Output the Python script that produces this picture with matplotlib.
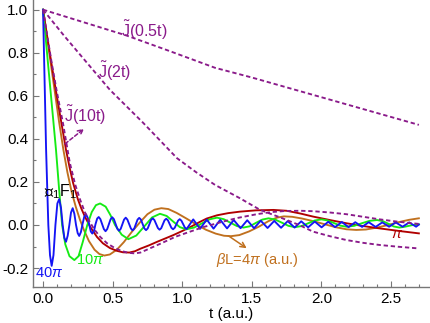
import matplotlib.pyplot as plt
from matplotlib.ticker import MultipleLocator, FormatStrFormatter

plt.rcParams['font.family'] = ['Liberation Sans', 'DejaVu Sans']
plt.rcParams['mathtext.fontset'] = 'custom'
plt.rcParams['mathtext.rm'] = 'Liberation Sans'
plt.rcParams['mathtext.it'] = 'Liberation Sans:italic'

# J~(0.5t), J~(2t), J~(10t): dashed reference curves
j05_t = [0.0, 0.3, 0.6, 0.9, 1.236, 1.5, 1.8, 2.1, 2.4, 2.7]
j05_y = [1.0, 0.94, 0.88, 0.81, 0.73, 0.685, 0.63, 0.575, 0.52, 0.465]

j2_t = [0.0, 0.15, 0.316, 0.48, 0.72, 0.963, 1.1, 1.236, 1.415, 1.56, 1.72,
        1.84, 1.94, 2.06, 2.18, 2.30, 2.42, 2.55, 2.70]
j2_y = [1.0, 0.88, 0.753, 0.628, 0.474, 0.31, 0.245, 0.186, 0.124, 0.07, 0.031,
        0.0, -0.031, -0.052, -0.07, -0.083, -0.093, -0.101, -0.109]

j10_t = [0.0, 0.03, 0.063, 0.096, 0.144, 0.192, 0.23, 0.265, 0.30, 0.335,
         0.37, 0.41, 0.46, 0.51, 0.56, 0.61, 0.66, 0.70, 0.77, 0.85,
         0.95, 1.056, 1.15, 1.295, 1.40, 1.535, 1.64, 1.74, 1.85, 1.94,
         2.06, 2.18, 2.30, 2.42, 2.54, 2.65, 2.70]
j10_y = [1.0, 0.88, 0.75, 0.63, 0.47, 0.29, 0.19, 0.12, 0.06, 0.015,
         -0.022, -0.055, -0.085, -0.105, -0.12, -0.129, -0.132, -0.128, -0.108, -0.085,
         -0.055, -0.031, -0.01, 0.016, 0.033, 0.05, 0.06, 0.065, 0.066, 0.064,
         0.058, 0.05, 0.038, 0.026, 0.016, 0.008, 0.005]

# beta L = pi
red_t = [0.0, 0.03, 0.063, 0.10, 0.133, 0.165, 0.19, 0.216, 0.25, 0.276,
         0.302, 0.34, 0.388, 0.43, 0.48, 0.53, 0.575, 0.62, 0.66, 0.70,
         0.76, 0.82, 0.88, 0.936, 1.0, 1.06, 1.12, 1.176, 1.25, 1.33,
         1.415, 1.53, 1.655, 1.75, 1.85, 1.94, 2.06, 2.18, 2.30, 2.42,
         2.56, 2.70]
red_y = [1.0, 0.875, 0.74, 0.595, 0.47, 0.349, 0.27, 0.195, 0.12, 0.075,
         0.037, -0.01, -0.056, -0.085, -0.107, -0.12, -0.127, -0.128, -0.122, -0.11,
         -0.095, -0.078, -0.062, -0.047, -0.028, -0.009, 0.012, 0.03, 0.045, 0.055,
         0.062, 0.068, 0.07, 0.066, 0.053, 0.039, 0.023, 0.008, -0.005, -0.016,
         -0.028, -0.039]

# beta L = 4 pi
brown_t = [0.0, 0.04, 0.08, 0.115, 0.146, 0.175, 0.205, 0.235, 0.265, 0.295,
           0.33, 0.37, 0.405, 0.44, 0.48, 0.53, 0.58, 0.64, 0.70, 0.75,
           0.80, 0.85, 0.90, 0.96, 1.03, 1.10, 1.17, 1.24, 1.30, 1.35,
           1.41, 1.48, 1.55, 1.62, 1.68, 1.73, 1.79, 1.86, 1.94, 2.02,
           2.10, 2.18, 2.25, 2.32, 2.40, 2.48, 2.56, 2.63, 2.70]
brown_y = [1.0, 0.82, 0.64, 0.48, 0.35, 0.245, 0.155, 0.085, 0.025, -0.025,
           -0.075, -0.115, -0.135, -0.142, -0.137, -0.115, -0.08, -0.03, 0.015, 0.05,
           0.071, 0.078, 0.074, 0.056, 0.03, 0.003, -0.022, -0.04, -0.05, -0.052,
           -0.047, -0.03, -0.008, 0.018, 0.034, 0.04, 0.038, 0.03, 0.018, 0.004,
           -0.01, -0.02, -0.023, -0.021, -0.012, 0.0, 0.014, 0.024, 0.031]

# beta L = 10 pi
green_t = [0.0, 0.03, 0.06, 0.093, 0.115, 0.137, 0.16, 0.19, 0.225, 0.255,
           0.285, 0.318, 0.35, 0.38, 0.41, 0.45, 0.485, 0.517, 0.565, 0.613,
           0.67, 0.727, 0.783, 0.84, 0.888, 0.935, 0.983, 1.03, 1.085, 1.14,
           1.195, 1.25, 1.298, 1.345, 1.393, 1.44, 1.485, 1.53, 1.575, 1.62,
           1.668, 1.715, 1.763, 1.81, 1.858, 1.905, 1.953, 2.00, 2.045, 2.09,
           2.135, 2.18, 2.235, 2.29, 2.345, 2.40, 2.44, 2.48, 2.52, 2.56,
           2.60, 2.65, 2.70]
green_y = [1.0, 0.79, 0.58, 0.35, 0.17, 0.0, -0.09, -0.145, -0.163, -0.145,
           -0.08, 0.0, 0.06, 0.092, 0.10, 0.085, 0.045, 0.0, -0.045, -0.066,
           -0.049, -0.007, 0.035, 0.052, 0.042, 0.016, -0.01, -0.02, -0.012, 0.007,
           0.026, 0.034, 0.027, 0.011, -0.005, -0.012, -0.006, 0.01, 0.025, 0.031,
           0.025, 0.011, -0.004, -0.01, -0.005, 0.008, 0.021, 0.026, 0.021, 0.009,
           -0.003, -0.008, -0.004, 0.008, 0.019, 0.023, 0.018, 0.006, -0.007, -0.012,
           -0.008, -0.001, 0.003]

# beta L = 40 pi
blue_t = [0.0, 0.022, 0.038, 0.05, 0.062, 0.075, 0.089, 0.103, 0.116, 0.129,
          0.141, 0.153, 0.165, 0.177, 0.189, 0.201, 0.213, 0.225, 0.237, 0.249,
          0.26, 0.272, 0.284, 0.296, 0.308, 0.32, 0.331, 0.343, 0.354, 0.366,
          0.377, 0.389, 0.40,
          0.412, 0.437, 0.449, 0.461, 0.485, 0.497, 0.509, 0.534, 0.546, 0.558,
          0.582, 0.594, 0.606, 0.631, 0.643, 0.655, 0.679, 0.691, 0.703, 0.728,
          0.74, 0.752, 0.776, 0.788, 0.80, 0.825, 0.837, 0.849, 0.873, 0.885,
          0.897, 0.922, 0.934, 0.946, 0.97, 0.982, 0.994, 1.019, 1.031,
          1.079, 1.128, 1.176, 1.225, 1.273, 1.322, 1.37,
          1.419, 1.467, 1.516, 1.564, 1.613, 1.661, 1.71, 1.758, 1.807, 1.855,
          1.904, 1.952, 2.001, 2.049, 2.098, 2.146, 2.195, 2.243, 2.292, 2.34,
          2.389, 2.437, 2.486, 2.534, 2.583, 2.631, 2.68, 2.70]
blue_y = [1.0, 0.35, 0.0, -0.14, -0.19, -0.14, 0.0, 0.10, 0.12, 0.08,
          0.0, -0.06, -0.078, -0.05, 0.0, 0.058, 0.078, 0.052, 0.0, -0.038,
          -0.051, -0.033, 0.005, 0.038, 0.05, 0.035, 0.004, -0.03, -0.04, -0.028,
          0.004, 0.03, 0.037,
          0.027, -0.019, -0.029, -0.019, 0.026, 0.036, 0.027, -0.018, -0.027, -0.018,
          0.025, 0.034, 0.025, -0.016, -0.025, -0.017, 0.025, 0.033, 0.025, -0.016,
          -0.024, -0.016, 0.023, 0.031, 0.023, -0.014, -0.022, -0.015, 0.022, 0.029,
          0.022, -0.013, -0.02, -0.013, 0.02, 0.027, 0.02, -0.012, -0.019,
          0.026, -0.018, 0.025, -0.017, 0.024, -0.016, 0.023,
          -0.015, 0.022, -0.015, 0.02, -0.014, 0.019, -0.013, 0.018, -0.012, 0.017,
          -0.011, 0.016, -0.011, 0.015, -0.01, 0.014, -0.01, 0.013, -0.009, 0.013,
          -0.009, 0.012, -0.008, 0.012, -0.008, 0.012, -0.008, 0.002]

purple = '#8a1a8a'
red = '#b00000'
brown = '#c0701e'
green = '#14eb14'
blue = '#1414f5'
gray = '#777777'

fig = plt.figure(figsize=(4.31, 3.23), dpi=100)
ax = fig.add_axes([0.0766, 0.1115, 0.9211, 0.8885])

lw = 1.35
ax.plot(brown_t, brown_y, color=brown, lw=lw)
ax.plot(red_t, red_y, color=red, lw=lw)
ax.plot(green_t, green_y, color=green, lw=lw)
ax.plot(blue_t, blue_y, color=blue, lw=lw, solid_joinstyle='round')
for tt, yy in [(j05_t, j05_y), (j2_t, j2_y), (j10_t, j10_y)]:
    ax.plot(tt, yy, color=purple, lw=1.35, dashes=(2.3, 1.5))

ax.set_xlim(-0.072, 2.78)
ax.set_ylim(-0.288, 1.045)

# labels
jsize = 11.5
ax.text(0.726, 0.902, r'$\tilde{\mathrm{J}}$(0.5t)', color=purple, fontsize=jsize,
        ha='center', va='center')
ax.text(0.51, 0.712, r'$\tilde{\mathrm{J}}$(2t)', color=purple, fontsize=jsize,
        ha='center', va='center')
ax.text(0.302, 0.507, r'$\tilde{\mathrm{J}}$(10t)', color=purple, fontsize=jsize,
        ha='center', va='center')
ax.annotate('', xy=(0.295, 0.447), xytext=(0.158, 0.377),
            arrowprops=dict(arrowstyle='->', color=purple, lw=1.1,
                            linestyle=(0, (2.5, 1.5)), shrinkA=0, shrinkB=0,
                            mutation_scale=9))
ax.text(0.122, 0.153, '∝$_1$F$_1$', color='black', fontsize=11.5,
        ha='center', va='center')
ax.text(0.047, -0.222, r'40$\pi$', color=blue, fontsize=10.5, ha='center', va='center')
ax.text(0.338, -0.163, r'10$\pi$', color=green, fontsize=10.5, ha='center', va='center')
ax.text(2.545, -0.04, r'$\pi$', color=red, fontsize=10.5, ha='center', va='center')
ax.text(1.541, -0.163, r'$\beta$L=4$\pi$ (a.u.)', color=brown, fontsize=10.5,
        ha='center', va='center')
ax.annotate('', xy=(1.463, -0.108), xytext=(1.331, -0.05),
            arrowprops=dict(arrowstyle='->', color=brown, lw=1.1,
                            shrinkA=0, shrinkB=0, mutation_scale=9))

# axes styling
ax.spines[['top', 'right']].set_visible(False)
for side in ['left', 'bottom']:
    ax.spines[side].set_color(gray)
    ax.spines[side].set_linewidth(1.0)
ax.xaxis.set_major_locator(MultipleLocator(0.5))
ax.xaxis.set_minor_locator(MultipleLocator(0.1))
ax.yaxis.set_major_locator(MultipleLocator(0.2))
ax.yaxis.set_minor_locator(MultipleLocator(0.1))
ax.xaxis.set_major_formatter(FormatStrFormatter('%.1f'))
ax.yaxis.set_major_formatter(FormatStrFormatter('%.1f'))
ax.tick_params(which='both', direction='in', color=gray, labelcolor='black',
               labelsize=11, width=0.8)
ax.tick_params(which='major', length=4.5, pad=3.5)
ax.tick_params(which='minor', length=2.5)
ax.set_xlabel('t (a.u.)', fontsize=11, labelpad=1)

fig.savefig('out.png', dpi=100)
